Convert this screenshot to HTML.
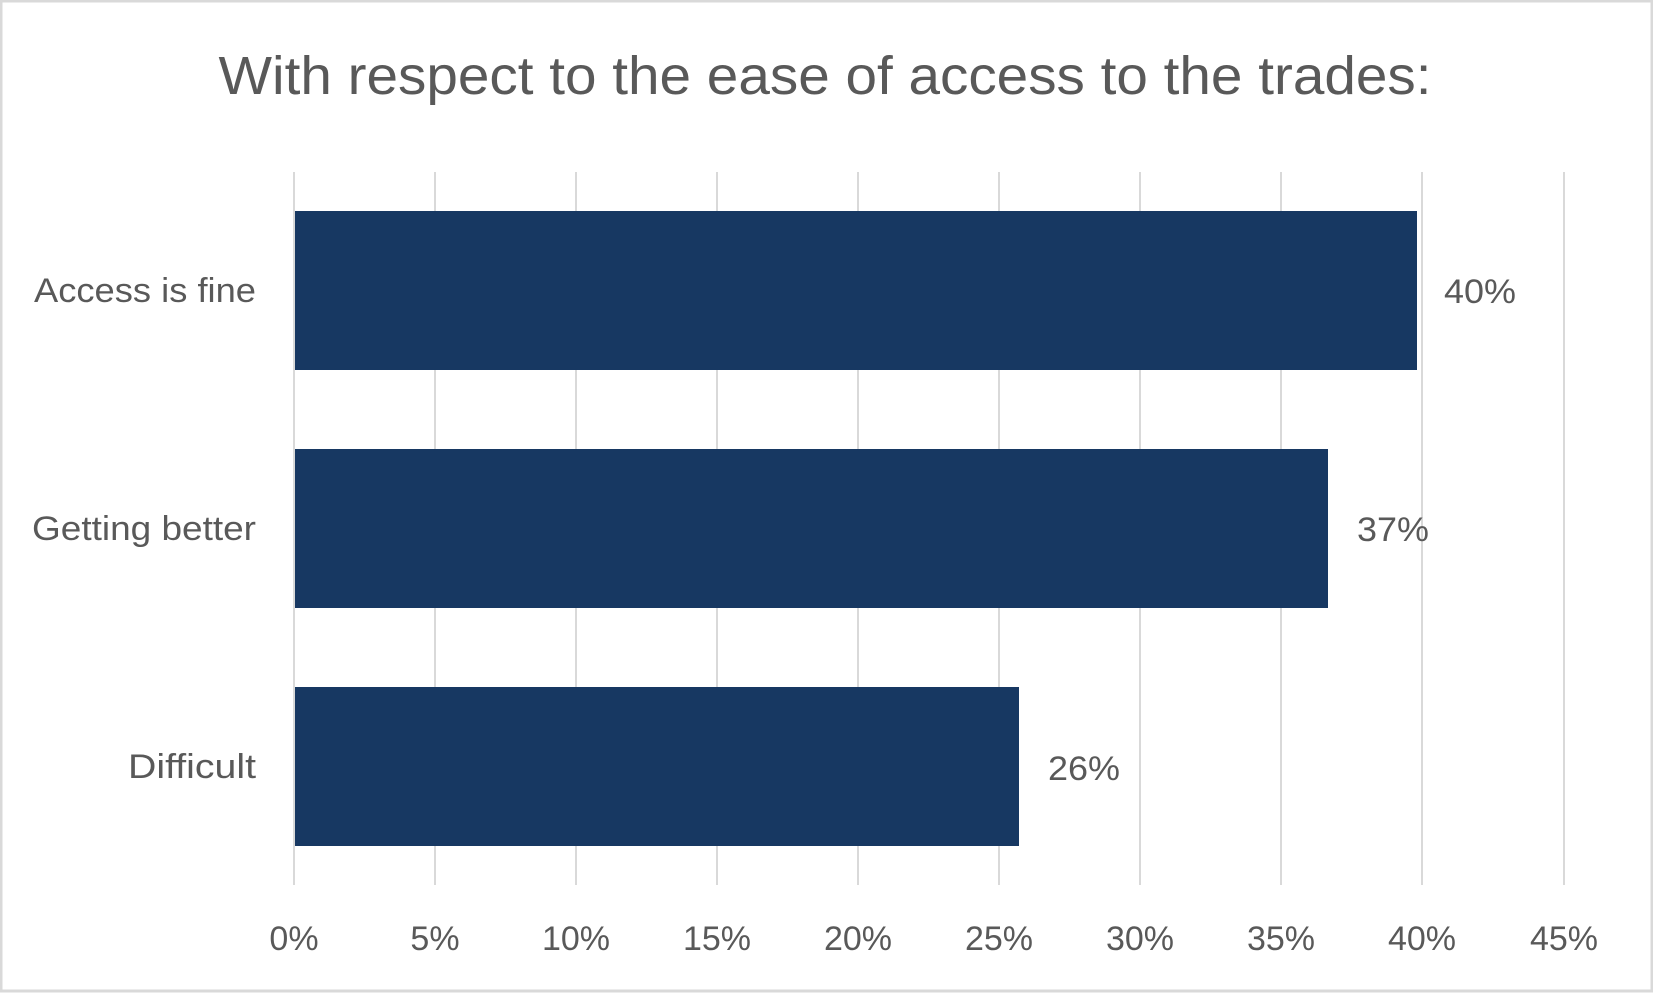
<!DOCTYPE html>
<html><head><meta charset="utf-8"><style>
html,body{margin:0;padding:0;background:#fff;}
svg{display:block;}
text{font-family:"Liberation Sans",sans-serif;fill:#595959;}
</style></head><body>
<svg width="1653" height="993" viewBox="0 0 1653 993" xmlns="http://www.w3.org/2000/svg">
<rect x="1" y="1" width="1651" height="990" fill="#fff" stroke="#d9d9d9" stroke-width="3"/>
<text x="825" y="94" font-size="54" text-anchor="middle" textLength="1213" lengthAdjust="spacingAndGlyphs">With respect to the ease of access to the trades:</text>
<g stroke="#d9d9d9" stroke-width="2">
<line x1="294" y1="172" x2="294" y2="885"/>
<line x1="435" y1="172" x2="435" y2="885"/>
<line x1="576" y1="172" x2="576" y2="885"/>
<line x1="717" y1="172" x2="717" y2="885"/>
<line x1="858" y1="172" x2="858" y2="885"/>
<line x1="999" y1="172" x2="999" y2="885"/>
<line x1="1140" y1="172" x2="1140" y2="885"/>
<line x1="1281" y1="172" x2="1281" y2="885"/>
<line x1="1422" y1="172" x2="1422" y2="885"/>
<line x1="1564" y1="172" x2="1564" y2="885"/>
</g>
<g fill="#173862">
<rect x="295" y="211" width="1122" height="159"/>
<rect x="295" y="449" width="1033" height="159"/>
<rect x="295" y="687" width="724" height="159"/>
</g>
<g font-size="34" text-anchor="end">
<text x="256" y="302" textLength="222" lengthAdjust="spacingAndGlyphs">Access is fine</text>
<text x="256" y="540" textLength="224" lengthAdjust="spacingAndGlyphs">Getting better</text>
<text x="256" y="778" textLength="128" lengthAdjust="spacingAndGlyphs">Difficult</text>
</g>
<g font-size="34">
<text x="1444" y="303" textLength="72" lengthAdjust="spacingAndGlyphs">40%</text>
<text x="1357" y="541" textLength="72" lengthAdjust="spacingAndGlyphs">37%</text>
<text x="1048" y="780" textLength="72" lengthAdjust="spacingAndGlyphs">26%</text>
</g>
<g font-size="34" text-anchor="middle">
<text x="294" y="950">0%</text>
<text x="435" y="950">5%</text>
<text x="576" y="950">10%</text>
<text x="717" y="950">15%</text>
<text x="858" y="950">20%</text>
<text x="999" y="950">25%</text>
<text x="1140" y="950">30%</text>
<text x="1281" y="950">35%</text>
<text x="1422" y="950">40%</text>
<text x="1564" y="950">45%</text>
</g>
</svg>
</body></html>
